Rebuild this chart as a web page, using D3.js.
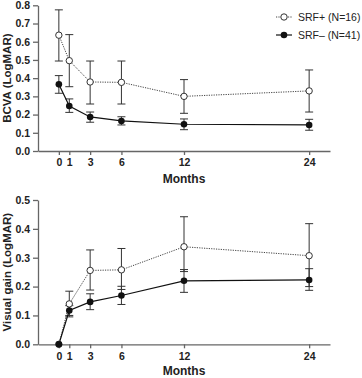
<!DOCTYPE html>
<html>
<head>
<meta charset="utf-8">
<script src="https://cdn.jsdelivr.net/npm/d3@7"></script>
<style>
  body { margin: 0; background: #fff; }
  svg { display: block; font-family: "Liberation Sans", Arial, sans-serif; }
</style>
</head>
<body>
<svg id="chart" width="362" height="378"></svg>
<script>
// months of follow-up
const months = [0, 1, 3, 6, 12, 24];

// BCVA (LogMAR), top panel
const bcvaPos = [0.636, 0.496, 0.379, 0.377, 0.300, 0.330];
const bcvaPosLo = [0.494, 0.353, 0.258, 0.258, 0.207, 0.214];
const bcvaPosHi = [0.775, 0.639, 0.494, 0.494, 0.392, 0.445];
const bcvaNeg = [0.366, 0.247, 0.187, 0.165, 0.147, 0.143];
const bcvaNegLo = [0.317, 0.212, 0.158, 0.143, 0.117, 0.114];
const bcvaNegHi = [0.414, 0.286, 0.214, 0.188, 0.176, 0.174];

// Visual gain (LogMAR), bottom panel
const gainPos = [0, 0.140, 0.256, 0.258, 0.338, 0.307];
const gainPosLo = [0, 0.095, 0.188, 0.190, 0.252, 0.200];
const gainPosHi = [0, 0.184, 0.327, 0.332, 0.442, 0.418];
const gainNeg = [0, 0.117, 0.147, 0.169, 0.220, 0.223];
const gainNegLo = [0, 0.100, 0.120, 0.138, 0.180, 0.187];
const gainNegHi = [0, 0.134, 0.175, 0.201, 0.259, 0.262];

const bcvaTicks = [0, 0.1, 0.2, 0.3, 0.4, 0.5, 0.6, 0.7, 0.8];
const gainTicks = [0, 0.1, 0.2, 0.3, 0.4, 0.5];

const seriesNames = ["SRF+ (N=16)", "SRF\u2013 (N=41)"];

const svg = d3.select("#chart");

const x = d3.scaleLinear().domain([-2, 26]).range([38, 330]);

const axisColor = "#666";

function drawPanel(cfg) {
    const y = d3.scaleLinear().domain(cfg.domain).range(cfg.range);
    const g = svg.append("g");

    // y axis
    g.append("g")
        .attr("transform", `translate(${x.range()[0]},0)`)
        .call(d3.axisLeft(y).tickValues(cfg.ticks).tickFormat(d3.format(".1f")).tickSize(5).tickSizeOuter(0).tickPadding(3))
        .call(a => a.selectAll("path, line").attr("stroke", axisColor).attr("stroke-width", 1.3))
        .call(a => a.selectAll("text").attr("fill", "#222").attr("font-size", 10.5).attr("font-weight", "bold").attr("font-family", "Liberation Sans, Arial, sans-serif"));

    // x axis
    g.append("g")
        .attr("transform", `translate(0,${y(0)})`)
        .call(d3.axisBottom(x).tickValues(months).tickFormat(d3.format("d")).tickSize(4).tickSizeOuter(0).tickPadding(4))
        .call(a => a.selectAll("path, line").attr("stroke", axisColor).attr("stroke-width", 1.3))
        .call(a => a.selectAll("text").attr("fill", "#222").attr("font-size", 10.5).attr("font-weight", "bold").attr("font-family", "Liberation Sans, Arial, sans-serif"));

    // axis titles
    g.append("text")
        .attr("transform", `translate(10.5,${(cfg.range[0] + cfg.range[1]) / 2}) rotate(-90)`)
        .attr("text-anchor", "middle")
        .attr("font-size", 11.5)
        .attr("font-weight", "bold")
        .attr("fill", "#222")
        .text(cfg.ylabel);

    g.append("text")
        .attr("x", (x.range()[0] + x.range()[1]) / 2)
        .attr("y", cfg.monthsY)
        .attr("text-anchor", "middle")
        .attr("font-size", 12)
        .attr("font-weight", "bold")
        .attr("fill", "#222")
        .text("Months");

    const series = [
        { vals: cfg.pos, lo: cfg.posLo, hi: cfg.posHi, open: true },
        { vals: cfg.neg, lo: cfg.negLo, hi: cfg.negHi, open: false }
    ];

    // error bars
    series.forEach(s => {
        const eb = g.append("g").attr("stroke", "#333").attr("stroke-width", 1);
        months.forEach((m, i) => {
            if (s.hi[i] === s.lo[i]) return;
            eb.append("line").attr("x1", x(m)).attr("x2", x(m)).attr("y1", y(s.lo[i])).attr("y2", y(s.hi[i]));
            [s.lo[i], s.hi[i]].forEach(v => {
                eb.append("line").attr("x1", x(m) - 4).attr("x2", x(m) + 4).attr("y1", y(v)).attr("y2", y(v));
            });
        });
    });

    const line = d3.line().x((d, i) => x(months[i])).y(d => y(d));

    // lines
    g.append("path")
        .datum(cfg.pos)
        .attr("d", line)
        .attr("fill", "none")
        .attr("stroke", "#444")
        .attr("stroke-width", 1)
        .attr("stroke-dasharray", "1.2,1.2");

    g.append("path")
        .datum(cfg.neg)
        .attr("d", line)
        .attr("fill", "none")
        .attr("stroke", "#111")
        .attr("stroke-width", 1.2);

    // markers
    g.append("g").selectAll("circle")
        .data(cfg.pos)
        .join("circle")
        .attr("cx", (d, i) => x(months[i]))
        .attr("cy", d => y(d))
        .attr("r", 3.2)
        .attr("fill", "#fff")
        .attr("stroke", "#333")
        .attr("stroke-width", 1);

    g.append("g").selectAll("circle")
        .data(cfg.neg)
        .join("circle")
        .attr("cx", (d, i) => x(months[i]))
        .attr("cy", d => y(d))
        .attr("r", 3.3)
        .attr("fill", "#111");
}

drawPanel({
    domain: [0, 0.8], range: [151, 5.3], ticks: bcvaTicks,
    ylabel: "BCVA (LogMAR)", monthsY: 183,
    pos: bcvaPos, posLo: bcvaPosLo, posHi: bcvaPosHi,
    neg: bcvaNeg, negLo: bcvaNegLo, negHi: bcvaNegHi
});

drawPanel({
    domain: [0, 0.5], range: [344.3, 200], ticks: gainTicks,
    ylabel: "Visual gain (LogMAR)", monthsY: 375,
    pos: gainPos, posLo: gainPosLo, posHi: gainPosHi,
    neg: gainNeg, negLo: gainNegLo, negHi: gainNegHi
});

// legend
const legend = svg.append("g").attr("transform", "translate(276,0)");
seriesNames.forEach((name, i) => {
    const ly = 17 + i * 18;
    const row = legend.append("g");
    row.append("line")
        .attr("x1", 0).attr("x2", 16).attr("y1", ly).attr("y2", ly)
        .attr("stroke", i === 0 ? "#444" : "#111")
        .attr("stroke-width", i === 0 ? 1 : 1.2)
        .attr("stroke-dasharray", i === 0 ? "1.2,1.2" : null);
    row.append("circle")
        .attr("cx", 8).attr("cy", ly).attr("r", i === 0 ? 3.2 : 3.3)
        .attr("fill", i === 0 ? "#fff" : "#111")
        .attr("stroke", i === 0 ? "#333" : null);
    row.append("text")
        .attr("x", 22).attr("y", ly)
        .attr("dy", "0.35em")
        .attr("font-size", 10.5)
        .attr("fill", "#222")
        .text(name);
});
</script>
</body>
</html>
